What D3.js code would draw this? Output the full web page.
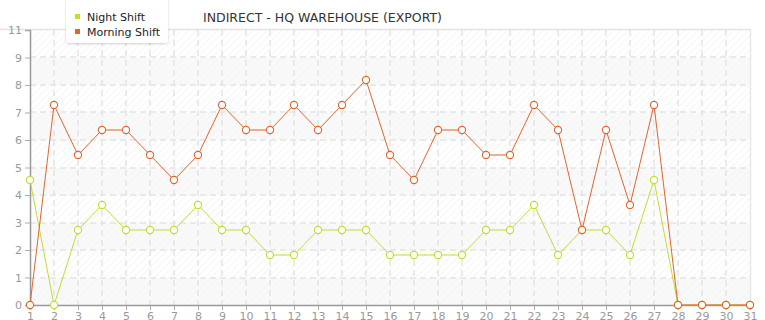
<!DOCTYPE html>
<html><head><meta charset="utf-8">
<script src="https://d3js.org/d3.v7.min.js"></script>
<style>
html,body{margin:0;padding:0;background:#fff;}
svg{display:block;font-family:"DejaVu Sans",Verdana,sans-serif;}
</style></head><body>
<svg id="chart" width="765" height="320"></svg>
<script>
const title = "INDIRECT - HQ WAREHOUSE (EXPORT)";
const days = d3.range(1, 32);
const nightShift = [5,0,3,4,3,3,3,4,3,3,2,2,3,3,3,2,2,2,2,3,3,4,2,3,3,2,5,0,0,0,0];
const morningShift = [0,8,6,7,7,6,5,6,8,7,7,8,7,8,9,6,5,7,7,6,6,8,7,3,7,4,8,0,0,0,0];
const seriesNames = ["Night Shift", "Morning Shift"];
const seriesColors = ["#c3dc32", "#e0652e"];
const yMax = 11;
const yTickCount = 10;

const svg = d3.select("#chart");
const m = {left: 30, right: 15, top: 30, bottom: 15};
const W = 765, H = 320;
const x = d3.scaleLinear().domain([1, 31]).range([m.left, W - m.right]);
const y = d3.scaleLinear().domain([0, yMax]).range([H - m.bottom, m.top]);
const yTicks = d3.range(0, yTickCount + 1).map(i => i * yMax / yTickCount);

const defs = svg.append("defs");
function hatch(id, bg, line) {
  const p = defs.append("pattern").attr("id", id).attr("patternUnits", "userSpaceOnUse")
    .attr("width", 5).attr("height", 5).attr("patternTransform", "rotate(45)");
  p.append("rect").attr("width", 5).attr("height", 5).attr("fill", bg);
  p.append("line").attr("x1", 0).attr("y1", 0).attr("x2", 0).attr("y2", 5)
    .attr("stroke", line).attr("stroke-width", 1.2);
}
hatch("hA", "#ffffff", "#efefef");
hatch("hB", "#f9f9f9", "#f3f3f3");

// bands
svg.append("g").selectAll("rect").data(d3.range(yTickCount)).join("rect")
  .attr("x", x(1)).attr("width", x(31) - x(1))
  .attr("y", i => y(yTicks[i + 1])).attr("height", i => y(yTicks[i]) - y(yTicks[i + 1]))
  .attr("fill", i => i % 2 ? "url(#hA)" : "url(#hB)");

// plot border top/right
svg.append("line").attr("x1", 0).attr("x2", x(31) + 1).attr("y1", y(yMax) - 0.5).attr("y2", y(yMax) - 0.5)
  .attr("stroke", "#e2e2e2").attr("stroke-width", 1.5);
svg.append("line").attr("x1", x(31) + 0.5).attr("x2", x(31) + 0.5).attr("y1", y(yMax)).attr("y2", y(0))
  .attr("stroke", "#e8e8e8").attr("stroke-width", 1.5);

// grid
const grid = svg.append("g").attr("stroke", "#e4e4e4").attr("stroke-dasharray", "6,4").attr("stroke-width", 1.5);
grid.selectAll(".gy").data(yTicks.slice(1, -1)).join("line")
  .attr("x1", x(1)).attr("x2", x(31)).attr("y1", d => Math.round(y(d))).attr("y2", d => Math.round(y(d)));
grid.selectAll(".gx").data(days.slice(1, -1)).join("line")
  .attr("x1", d => Math.round(x(d))).attr("x2", d => Math.round(x(d))).attr("y1", y(yMax)).attr("y2", y(0));

// axes
const yAxis = svg.append("g").attr("transform", `translate(${x(1)},0)`)
  .call(d3.axisLeft(y).tickValues(yTicks).tickSize(5).tickPadding(3).tickFormat(d => Math.floor(d + 1e-9)));
const xAxis = svg.append("g").attr("transform", `translate(0,${y(0)})`)
  .call(d3.axisBottom(x).tickValues(days).tickSize(5).tickPadding(2).tickFormat(d3.format("d")));
[yAxis, xAxis].forEach(a => {
  a.select(".domain").attr("stroke", "#999").attr("stroke-width", 1.5);
  a.selectAll(".tick line").attr("stroke", "#aaa");
  a.selectAll("text").attr("fill", "#999").style("font-size", "11px").style("font-family", "'DejaVu Sans',Verdana,sans-serif");
});

// series
const all = [nightShift, morningShift];
const line = d3.line().x((d, i) => x(days[i])).y(d => y(d));
all.forEach((vals, s) => {
  const g = svg.append("g");
  g.append("path").attr("d", line(vals)).attr("fill", "none")
    .attr("stroke", seriesColors[s]).attr("stroke-width", 1);
  g.selectAll("circle").data(vals).join("circle")
    .attr("cx", (d, i) => x(days[i])).attr("cy", d => y(d)).attr("r", 3.6)
    .attr("fill", "#fff").attr("stroke", seriesColors[s]).attr("stroke-width", 1.1);
});

// legend
const lg = svg.append("g");
defs.append("filter").attr("id", "sh").append("feDropShadow")
  .attr("dx", 0).attr("dy", 1).attr("stdDeviation", 1.2).attr("flood-color", "#000").attr("flood-opacity", 0.18);
lg.append("rect").attr("x", 66).attr("y", -6).attr("width", 102).attr("height", 49).attr("rx", 4)
  .attr("fill", "#fff").attr("filter", "url(#sh)");
seriesNames.forEach((n, i) => {
  lg.append("rect").attr("x", 75).attr("y", 14 + i * 15).attr("width", 5).attr("height", 5).attr("fill", seriesColors[i]);
  lg.append("text").attr("x", 87).attr("y", 21 + i * 15).text(n)
    .attr("fill", "#222").style("font-size", "11px");
});

svg.append("text").attr("x", 203).attr("y", 22).text(title)
  .attr("fill", "#333").style("font-size", "12.5px");
</script>
</body></html>
